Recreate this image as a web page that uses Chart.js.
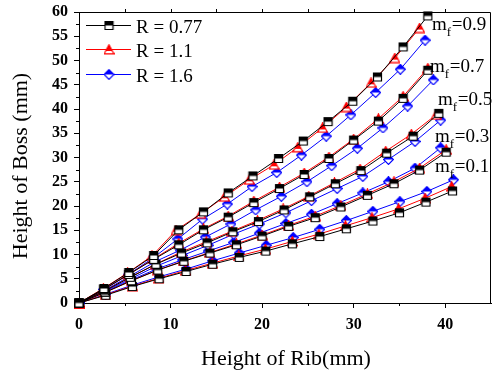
<!DOCTYPE html>
<html>
<head>
<meta charset="utf-8">
<script src="https://cdn.jsdelivr.net/npm/chart.js@4.4.1/dist/chart.umd.min.js"></script>
<style>
  html, body { margin: 0; padding: 0; background: #fff; }
  #wrap { width: 492px; height: 376px; }
</style>
</head>
<body>
<div id="wrap"><canvas id="bossChart" width="492" height="376"></canvas></div>
<script>
// Legend labels (R ratio) and m_f group labels
const rLabels = ['R = 0.77', 'R = 1.1', 'R = 1.6'];
const mfLabels = ['0.9', '0.7', '0.5', '0.3', '0.1'];

// Axis ticks
const xTickValues = [0, 10, 20, 30, 40];
const yTickValues = [0, 5, 10, 15, 20, 25, 30, 35, 40, 45, 50, 55, 60];

// m_f = 0.9  (Height of Rib, Height of Boss)
const x09a = [0, 2.72, 5.44, 8.16, 10.9, 13.6, 16.3, 19.0, 21.8, 24.5, 27.2, 29.9, 32.6, 35.4, 38.1];
const y09a = [0, 3.0, 6.3, 9.8, 15.1, 18.8, 22.7, 26.2, 29.8, 33.4, 37.4, 41.6, 46.6, 52.8, 59.2];
const x09b = [0, 2.66, 5.31, 7.97, 10.6, 13.3, 15.9, 18.6, 21.3, 23.9, 26.6, 29.2, 31.9, 34.5, 37.2];
const y09b = [0, 3.0, 6.2, 9.7, 15.0, 18.4, 21.9, 25.4, 28.5, 32.1, 36.1, 40.4, 45.4, 50.5, 56.7];
const x09c = [0, 2.7, 5.4, 8.1, 10.8, 13.5, 16.2, 18.9, 21.6, 24.3, 27.0, 29.7, 32.4, 35.1, 37.8];
const y09c = [0, 2.8, 5.9, 9.3, 13.2, 17.3, 20.4, 24.0, 26.9, 30.5, 34.4, 38.8, 43.4, 48.2, 54.2];

// m_f = 0.7
const x07a = [0, 2.72, 5.44, 8.16, 10.9, 13.6, 16.3, 19.1, 21.9, 24.6, 27.3, 30.0, 32.7, 35.4, 38.1];
const y07a = [0, 2.8, 5.9, 9.0, 12.0, 15.1, 17.7, 20.7, 23.6, 26.5, 29.8, 33.6, 37.5, 42.2, 48.0];
const x07b = [0, 2.72, 5.44, 8.16, 10.9, 13.6, 16.3, 19.1, 21.9, 24.6, 27.3, 30.0, 32.7, 35.4, 38.1];
const y07b = [0, 2.8, 5.9, 9.1, 12.3, 15.3, 17.9, 21.0, 23.9, 26.8, 30.1, 33.8, 38.0, 42.6, 48.4];
const x07c = [0, 2.76, 5.53, 8.3, 11.05, 13.8, 16.6, 19.3, 22.1, 24.9, 27.6, 30.4, 33.2, 35.9, 38.7];
const y07c = [0, 2.6, 5.5, 8.5, 10.9, 13.6, 16.3, 19.2, 22.0, 25.0, 28.3, 31.9, 36.1, 40.6, 46.0];

// m_f = 0.5
const x05a = [0, 2.8, 5.6, 8.4, 11.2, 14.0, 16.8, 19.6, 22.4, 25.2, 28.0, 30.8, 33.6, 36.5, 39.3];
const y05a = [0, 2.5, 5.3, 8.0, 10.3, 12.4, 14.7, 16.8, 19.2, 21.9, 24.6, 27.3, 30.9, 34.4, 39.1];
const x05b = [0, 2.79, 5.58, 8.37, 11.15, 13.9, 16.7, 19.5, 22.3, 25.1, 27.9, 30.7, 33.5, 36.3, 39.0];
const y05b = [0, 2.5, 5.3, 8.0, 10.5, 12.6, 14.8, 17.0, 19.4, 22.0, 24.8, 27.6, 31.3, 34.8, 38.8];
const x05c = [0, 2.82, 5.64, 8.46, 11.3, 14.1, 16.9, 19.7, 22.6, 25.4, 28.2, 31.0, 33.8, 36.7, 39.5];
const y05c = [0, 2.4, 5.0, 7.6, 9.8, 11.9, 14.2, 16.3, 18.6, 21.1, 23.6, 26.1, 29.6, 33.3, 37.7];

// m_f = 0.3
const x03a = [0, 2.86, 5.73, 8.6, 11.45, 14.3, 17.2, 20.0, 22.9, 25.8, 28.6, 31.5, 34.4, 37.2, 40.1];
const y03a = [0, 2.2, 4.6, 6.8, 8.6, 10.3, 12.0, 13.8, 15.8, 17.6, 19.8, 22.2, 24.6, 27.4, 31.1];
const x03b = [0, 2.86, 5.73, 8.6, 11.45, 14.3, 17.2, 20.0, 22.9, 25.8, 28.6, 31.5, 34.4, 37.2, 40.1];
const y03b = [0, 2.2, 4.6, 6.8, 8.7, 10.4, 12.2, 14.0, 16.0, 17.9, 20.1, 22.5, 25.0, 27.8, 31.6];
const x03c = [0, 2.82, 5.64, 8.46, 11.3, 14.1, 16.9, 19.7, 22.6, 25.4, 28.2, 31.0, 33.8, 36.7, 39.5];
const y03c = [0, 2.3, 4.7, 7.0, 8.9, 10.7, 12.5, 14.4, 16.4, 18.3, 20.5, 22.7, 25.0, 27.8, 32.0];

// m_f = 0.1
const x01a = [0, 2.92, 5.83, 8.75, 11.7, 14.6, 17.5, 20.4, 23.3, 26.3, 29.2, 32.1, 35.0, 37.9, 40.8];
const y01a = [0, 1.6, 3.4, 5.0, 6.5, 8.0, 9.4, 10.7, 12.2, 13.7, 15.3, 16.9, 18.6, 20.8, 23.1];
const x01b = [0, 2.91, 5.82, 8.73, 11.65, 14.55, 17.45, 20.35, 23.3, 26.2, 29.1, 32.0, 34.9, 37.8, 40.7];
const y01b = [0, 1.7, 3.5, 5.1, 6.7, 8.2, 9.7, 11.1, 12.7, 14.2, 15.9, 17.6, 19.4, 21.6, 24.0];
const x01c = [0, 2.92, 5.84, 8.76, 11.7, 14.6, 17.5, 20.45, 23.4, 26.3, 29.2, 32.1, 35.05, 38.0, 40.9];
const y01c = [0, 1.8, 3.7, 5.4, 7.0, 8.7, 10.3, 11.9, 13.5, 15.2, 17.0, 18.9, 20.9, 23.0, 25.4];

const seriesByR = [
    [[x09a, y09a], [x07a, y07a], [x05a, y05a], [x03a, y03a], [x01a, y01a]],
    [[x09b, y09b], [x07b, y07b], [x05b, y05b], [x03b, y03b], [x01b, y01b]],
    [[x09c, y09c], [x07c, y07c], [x05c, y05c], [x03c, y03c], [x01c, y01c]]
];

const colors = ['#000000', '#ff0000', '#0000ff'];
const shapes = ['square', 'triangle', 'diamond'];
const serif = "'Liberation Serif', 'Times New Roman', serif";

/**
 * Half-filled marker (top half solid, bottom half white)
 */
function makeMarker(shape, color) {
    const c = document.createElement('canvas');
    c.width = 11;
    c.height = 11;
    const g = c.getContext('2d');

    function path() {
        g.beginPath();
        if (shape === 'square') {
            g.rect(1.5, 1.5, 8, 8);
        } else if (shape === 'triangle') {
            g.moveTo(5.5, 0.8);
            g.lineTo(10.3, 9.8);
            g.lineTo(0.7, 9.8);
            g.closePath();
        } else {
            g.moveTo(5.5, 0.6);
            g.lineTo(10.4, 5.5);
            g.lineTo(5.5, 10.4);
            g.lineTo(0.6, 5.5);
            g.closePath();
        }
    }

    path();
    g.fillStyle = '#fff';
    g.fill();

    // Solid top half
    g.save();
    path();
    g.clip();
    g.fillStyle = color;
    g.fillRect(0, 0, 11, shape === 'triangle' ? 7 : 5.5);
    g.restore();

    path();
    g.lineWidth = 1.2;
    g.strokeStyle = color;
    g.stroke();
    return c;
}

const markers = shapes.map((s, i) => makeMarker(s, colors[i]));

const datasets = [];
seriesByR.forEach((groups, r) => {
    groups.forEach(([xs, ys], gi) => {
        datasets.push({
            label: rLabels[r] + ' / mf=' + mfLabels[gi],
            data: xs.map((x, k) => ({ x: x, y: ys[k] })),
            borderColor: colors[r],
            borderWidth: 1,
            pointStyle: markers[r],
            pointRadius: 5,
            showLine: true,
            tension: 0,
            clip: false
        });
    });
});

// Frame, minor ticks, titles, legend and m_f labels
const decorations = {
    id: 'decorations',
    afterDraw(chart) {
        const ctx = chart.ctx;
        const a = chart.chartArea;
        const xs = chart.scales.x;
        const ys = chart.scales.y;

        ctx.save();
        ctx.strokeStyle = '#000';
        ctx.lineWidth = 1;

        // top and right frame
        ctx.beginPath();
        ctx.moveTo(a.left, a.top + 0.5);
        ctx.lineTo(a.right - 0.5, a.top + 0.5);
        ctx.lineTo(a.right - 0.5, a.bottom);
        ctx.stroke();

        // minor ticks
        ctx.beginPath();
        for (let v = 5; v < 45; v += 10) {
            const px = Math.round(xs.getPixelForValue(v)) + 0.5;
            ctx.moveTo(px, a.bottom);
            ctx.lineTo(px, a.bottom + 3);
        }
        for (let v = 5; v < 45; v += 5) {
            const px = Math.round(xs.getPixelForValue(v)) + 0.5;
            ctx.moveTo(px, a.top);
            ctx.lineTo(px, a.top - 3);
        }
        for (let v = 2.5; v < 60; v += 5) {
            const py = Math.round(ys.getPixelForValue(v)) + 0.5;
            ctx.moveTo(a.left, py);
            ctx.lineTo(a.left - 3, py);
        }
        ctx.stroke();

        // axis titles
        ctx.fillStyle = '#000';
        ctx.font = '22px ' + serif;
        ctx.textAlign = 'center';
        ctx.textBaseline = 'alphabetic';
        ctx.fillText('Height of Rib(mm)', 286, 365);
        ctx.save();
        ctx.translate(27, 166);
        ctx.rotate(-Math.PI / 2);
        ctx.fillText('Height of Boss (mm)', 0, 0);
        ctx.restore();

        // legend
        ctx.font = '19px ' + serif;
        ctx.textAlign = 'left';
        const rowY = [25, 49, 74];
        rLabels.forEach((lab, i) => {
            const y = rowY[i] + 0.5;
            ctx.strokeStyle = colors[i];
            ctx.beginPath();
            ctx.moveTo(86, y);
            ctx.lineTo(131, y);
            ctx.stroke();
            ctx.drawImage(markers[i], 109 - 5.5, rowY[i] - 5);
            ctx.fillStyle = '#000';
            ctx.fillText(lab, 136, rowY[i] + 8);
        });

        // m_f labels beside each group (left x, baseline y)
        const labPos = [[432, 30], [430, 72], [438, 105], [435, 142], [435, 172]];
        mfLabels.forEach((m, i) => {
            const px = labPos[i][0];
            const py = labPos[i][1];
            ctx.font = '19px ' + serif;
            ctx.fillText('m', px, py);
            const mw = ctx.measureText('m').width;
            ctx.font = '13px ' + serif;
            ctx.fillText('f', px + mw, py + 6);
            ctx.font = '19px ' + serif;
            ctx.fillText('=' + m, px + mw + 5, py);
        });
        ctx.restore();
    }
};

const tickFont = { family: serif, size: 16, weight: 'bold' };

new Chart(document.getElementById('bossChart'), {
    type: 'scatter',
    data: { datasets: datasets },
    options: {
        responsive: false,
        animation: false,
        layout: { autoPadding: false, padding: { top: 12, right: 1, left: 0, bottom: 0 } },
        plugins: {
            legend: { display: false },
            tooltip: { enabled: false }
        },
        scales: {
            x: {
                type: 'linear',
                min: 0,
                max: 45,
                afterBuildTicks: s => { s.ticks = xTickValues.map(v => ({ value: v })); },
                afterFit: s => {
                    s.height = 73;
                    s.paddingLeft = 0;
                    s.paddingRight = 0;
                },
                grid: { drawOnChartArea: false, tickLength: 5, color: '#000' },
                border: { color: '#000', width: 1 },
                ticks: { font: tickFont, color: '#000', padding: 7, maxRotation: 0 }
            },
            y: {
                type: 'linear',
                min: 0,
                max: 60,
                afterBuildTicks: s => { s.ticks = yTickValues.map(v => ({ value: v })); },
                afterFit: s => {
                    s.width = 79;
                    s.paddingTop = 0;
                    s.paddingBottom = 0;
                },
                grid: { drawOnChartArea: false, tickLength: 5, color: '#000' },
                border: { color: '#000', width: 1 },
                ticks: { font: tickFont, color: '#000', padding: 6 }
            }
        }
    },
    plugins: [decorations]
});
</script>
</body>
</html>
